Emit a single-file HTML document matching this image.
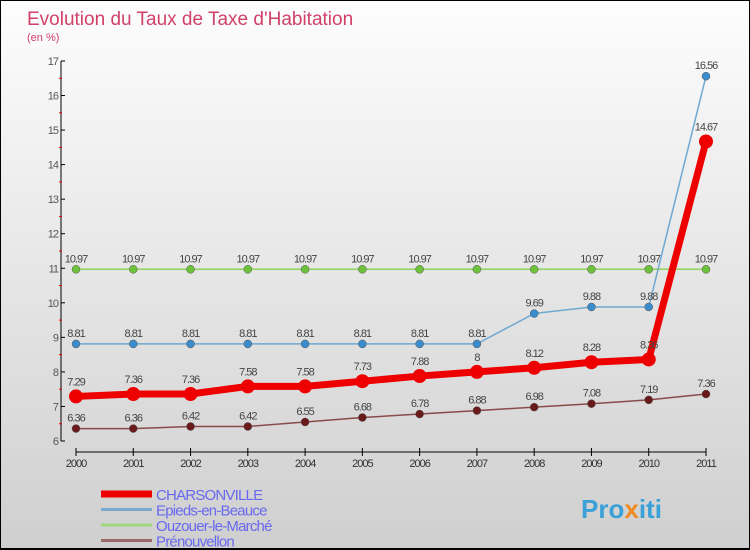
<!DOCTYPE html>
<html><head><meta charset="utf-8"><style>
body{margin:0;}
#wrap{width:750px;height:550px;position:relative;overflow:hidden;background:linear-gradient(#fdfdfd,#cfcfcf);box-sizing:border-box;border:1px solid #000;border-bottom:2px solid #000;font-family:"Liberation Sans",sans-serif;}
svg text{font-family:"Liberation Sans",sans-serif;}
</style></head><body>
<div id="wrap">
<svg id="chart" width="750" height="550">
<text x="26" y="24" font-size="19" fill="#d0406a">Evolution du Taux de Taxe d'Habitation</text>
<text x="26" y="40" font-size="11" fill="#d0406a">(en %)</text>
<g id="axes"></g><g id="series"></g><g id="legend"></g>
<text x="580" y="517" font-size="26" font-weight="bold" fill="#3aa0d8">Pro<tspan fill="#f08a20">x</tspan>iti</text>
</svg></div>
<script>
const years=[2000,2001,2002,2003,2004,2005,2006,2007,2008,2009,2010,2011];
const yTicks=[6,7,8,9,10,11,12,13,14,15,16,17];
const charsonville=[7.29,7.36,7.36,7.58,7.58,7.73,7.88,8,8.12,8.28,8.36,14.67];
const epieds=[8.81,8.81,8.81,8.81,8.81,8.81,8.81,8.81,9.69,9.88,9.88,16.56];
const ouzouer=[10.97,10.97,10.97,10.97,10.97,10.97,10.97,10.97,10.97,10.97,10.97,10.97];
const prenouvellon=[6.36,6.36,6.42,6.42,6.55,6.68,6.78,6.88,6.98,7.08,7.19,7.36];
const names=["CHARSONVILLE","Epieds-en-Beauce","Ouzouer-le-Marché","Prénouvellon"];
const NS="http://www.w3.org/2000/svg";
function xs(i){return 75+i*(630/(years.length-1));}
function ys(v){return 440-(v-6)*(380/11);}
function mk(t,a,p){const e=document.createElementNS(NS,t);for(const k in a)e.setAttribute(k,a[k]);p.appendChild(e);return e;}
const ax=document.getElementById('axes');
let l=mk('line',{x1:60,y1:ys(17),x2:60,y2:ys(6),stroke:'#000'},ax);


yTicks.forEach(v=>{
 mk('line',{x1:60,y1:ys(v),x2:64,y2:ys(v),stroke:'#000'},ax);
 if(v<17) mk('line',{x1:58,y1:ys(v+0.5),x2:61,y2:ys(v+0.5),stroke:'#e00'},ax);
 const t=mk('text',{x:57,y:ys(v)+4,'font-size':11,fill:'#555','text-anchor':'end','letter-spacing':'-1'},ax);
 t.textContent=v;
 
 
});
l=mk('line',{x1:75,y1:451,x2:705,y2:451,stroke:'#000'},ax);


years.forEach((y,i)=>{
 mk('line',{x1:xs(i),y1:447,x2:xs(i),y2:455,stroke:'#000'},ax);
 const t=mk('text',{x:xs(i),y:466,'font-size':11,fill:'#333','text-anchor':'middle','letter-spacing':'-1'},ax);
 t.textContent=y;
 
 
});
const sg=document.getElementById('series');
const defs=[[ouzouer,'#8fd35a','#6cc23a',1.5,4,'ouzouer'],[epieds,'#6fa8d0','#3a8ccc',1.5,4,'epieds'],[prenouvellon,'#8a4a4a','#6a1a1a',1.5,4,'prenouvellon'],[charsonville,'#ee0000','#ee0000',7,7,'charsonville']];
defs.forEach(([d,c,dc,w,r,n])=>{
 const p=mk('polyline',{points:d.map((v,i)=>xs(i)+','+ys(v)).join(' '),fill:'none',stroke:c,'stroke-width':w},sg);
 
 
 d.forEach((v,i)=>{
  const ci=mk('circle',{cx:xs(i),cy:ys(v),r:r,fill:dc,stroke:n=='charsonville'?'none':'#555','stroke-width':0.5},sg);
  
  
  const t=mk('text',{x:xs(i),y:ys(v)-(n=='charsonville'?11:7),'font-size':11,fill:'#444','text-anchor':'middle','letter-spacing':'-1'},sg);
  t.textContent=v;
  
  
 });
});
const lg=document.getElementById('legend');
const lc=['#ee0000','#7aaad0','#9fd77a','#9a6a6a'],lw=[7,3,3,3];
names.forEach((n,i)=>{
 const y=493+i*15.5;
 const li=mk('line',{x1:100,y1:y,x2:151,y2:y,stroke:lc[i],'stroke-width':lw[i]},lg);
 
 
 const t=mk('text',{x:155,y:y+6,'font-size':15,fill:'#6868f0','letter-spacing':'-0.8'},lg);
 t.textContent=n;
 
 
});
</script>
</body></html>
